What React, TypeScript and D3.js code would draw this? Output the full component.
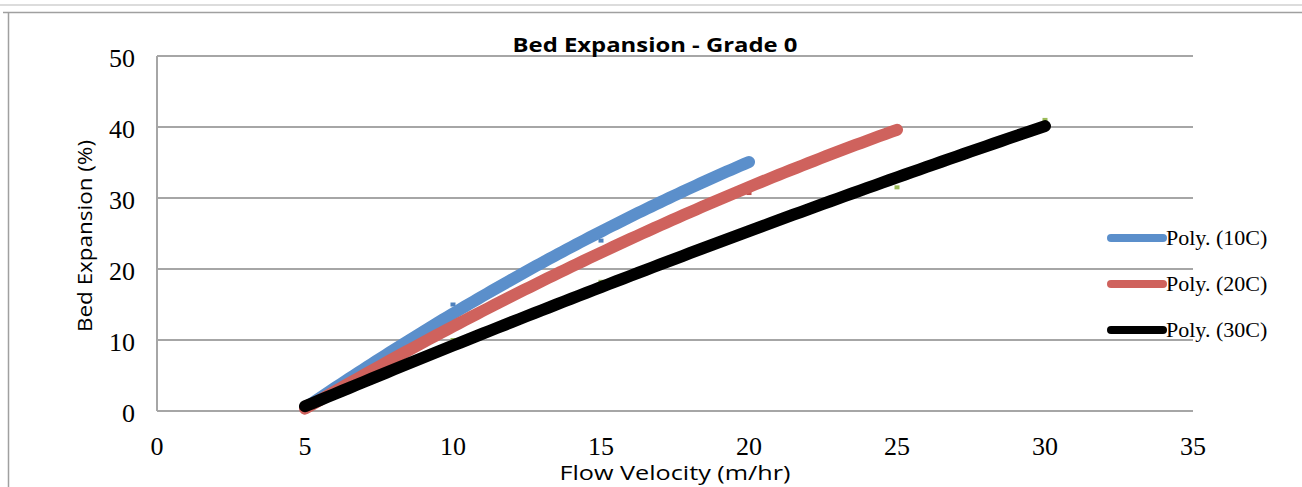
import React from "react";
import * as d3 from "d3";

const xTicks = [0, 5, 10, 15, 20, 25, 30, 35];
const yTicks = [0, 10, 20, 30, 40, 50];

const x10 = [5, 10, 15, 20];
const y10 = [0, 15, 24, 35.5];
const x20 = [5, 10, 15, 20, 25];
const y20 = [0, 12.5, 22.5, 30.7, 40];
const x30 = [5, 10, 15, 20, 25, 30];
const y30 = [0, 10, 18.2, 25, 31.5, 41];

const seriesNames = ["Poly. (10C)", "Poly. (20C)", "Poly. (30C)"];
const lineColors = ["#5B8FCB", "#CF625D", "#000000"];
const markerColors = ["#4F81BD", "#C0504D", "#9BBB59"];

function polyFit2(xs: number[], ys: number[]) {
  // least squares quadratic fit y = a + b x + c x^2
  const n = xs.length;
  let s0 = n, s1 = 0, s2 = 0, s3 = 0, s4 = 0, t0 = 0, t1 = 0, t2 = 0;
  for (let i = 0; i < n; i++) {
    const x = xs[i], y = ys[i];
    s1 += x; s2 += x * x; s3 += x * x * x; s4 += x * x * x * x;
    t0 += y; t1 += x * y; t2 += x * x * y;
  }
  const M = [
    [s0, s1, s2, t0],
    [s1, s2, s3, t1],
    [s2, s3, s4, t2],
  ];
  for (let i = 0; i < 3; i++) {
    for (let j = i + 1; j < 3; j++) {
      const f = M[j][i] / M[i][i];
      for (let k = i; k < 4; k++) M[j][k] -= f * M[i][k];
    }
  }
  const c = M[2][3] / M[2][2];
  const b = (M[1][3] - M[1][2] * c) / M[1][1];
  const a = (M[0][3] - M[0][1] * b - M[0][2] * c) / M[0][0];
  return (x: number) => a + b * x + c * x * x;
}

export default function App() {
  const W = 1302, H = 487;
  const x = d3.scaleLinear().domain([0, 35]).range([157, 1193]);
  const y = d3.scaleLinear().domain([0, 50]).range([411, 56]);

  const series = [
    { xs: x10, ys: y10 },
    { xs: x20, ys: y20 },
    { xs: x30, ys: y30 },
  ];

  const line = d3
    .line<[number, number]>()
    .x((d) => x(d[0]))
    .y((d) => y(d[1]));

  const serif = "'Liberation Serif', 'Times New Roman', serif";
  const sans = "'Open Sans', 'Noto Sans', sans-serif";
  const gridColor = "#a6a6a6";

  return (
    <svg
      width={W}
      height={H}
      style={{ position: "absolute", left: 0, top: 0, background: "#fff" }}
    >
      <rect x={0} y={0} width={W} height={H} fill="#fff" />
      {/* outer frame */}
      <line x1={0} x2={W} y1={5} y2={5} stroke="#dcdcdc" strokeWidth={2} />
      <line x1={3} x2={W} y1={12.5} y2={12.5} stroke="#a0a0a0" strokeWidth={1.5} />
      <line x1={8.5} x2={8.5} y1={12} y2={H} stroke="#a0a0a0" strokeWidth={1.5} />

      {/* gridlines */}
      {yTicks.map((t) => (
        <line
          key={"g" + t}
          x1={x(0)}
          x2={x(35)}
          y1={y(t)}
          y2={y(t)}
          stroke={gridColor}
          strokeWidth={2}
        />
      ))}
      <line x1={x(0)} x2={x(0)} y1={y(50)} y2={y(0)} stroke={gridColor} strokeWidth={2} />

      {/* y tick labels */}
      {yTicks.map((t) => (
        <text
          key={"yl" + t}
          x={135}
          y={y(t) + 11}
          textAnchor="end"
          fontFamily={serif}
          fontSize={26}
          fill="#000"
        >
          {t}
        </text>
      ))}
      {/* x tick labels */}
      {xTicks.map((t) => (
        <text
          key={"xl" + t}
          x={x(t)}
          y={455}
          textAnchor="middle"
          fontFamily={serif}
          fontSize={26}
          fill="#000"
        >
          {t}
        </text>
      ))}

      {/* markers */}
      {series.map((s, i) =>
        s.xs.map((xv, j) => (
          <rect
            key={"m" + i + "-" + j}
            x={x(xv) - 2.5}
            y={y(s.ys[j]) - 2}
            width={5}
            height={4}
            fill={markerColors[i]}
          />
        ))
      )}

      {/* trendlines */}
      {series.map((s, i) => {
        const f = polyFit2(s.xs, s.ys);
        const x0 = d3.min(s.xs) as number;
        const x1 = d3.max(s.xs) as number;
        const pts: [number, number][] = d3
          .range(0, 101)
          .map((k) => {
            const xv = x0 + ((x1 - x0) * k) / 100;
            return [xv, f(xv)];
          });
        return (
          <path
            key={"t" + i}
            d={line(pts) || ""}
            fill="none"
            stroke={lineColors[i]}
            strokeWidth={12}
            strokeLinecap="round"
            strokeLinejoin="round"
          />
        );
      })}

      {/* title */}
      <text
        x={655}
        y={52}
        textAnchor="middle"
        fontFamily={sans}
        fontWeight="bold"
        fontSize={20}
        textLength={285}
        lengthAdjust="spacingAndGlyphs"
        fill="#000"
      >
        Bed Expansion - Grade 0
      </text>

      {/* axis titles */}
      <text
        transform={`translate(92, 236) rotate(-90)`}
        textAnchor="middle"
        fontFamily={sans}
        fontSize={20}
        textLength={192}
        lengthAdjust="spacingAndGlyphs"
        fill="#000"
      >
        Bed Expansion (%)
      </text>
      <text
        x={675}
        y={480}
        textAnchor="middle"
        fontFamily={sans}
        fontSize={20}
        textLength={231}
        lengthAdjust="spacingAndGlyphs"
        fill="#000"
      >
        Flow Velocity (m/hr)
      </text>

      {/* legend */}
      {seriesNames.map((name, i) => {
        const ly = 238 + i * 46;
        return (
          <g key={"lg" + i}>
            <line
              x1={1111}
              x2={1163}
              y1={ly}
              y2={ly}
              stroke={lineColors[i]}
              strokeWidth={8}
              strokeLinecap="round"
            />
            <text
              x={1166}
              y={ly + 7}
              fontFamily={serif}
              fontSize={22}
              fill="#000"
            >
              {name}
            </text>
          </g>
        );
      })}
    </svg>
  );
}
